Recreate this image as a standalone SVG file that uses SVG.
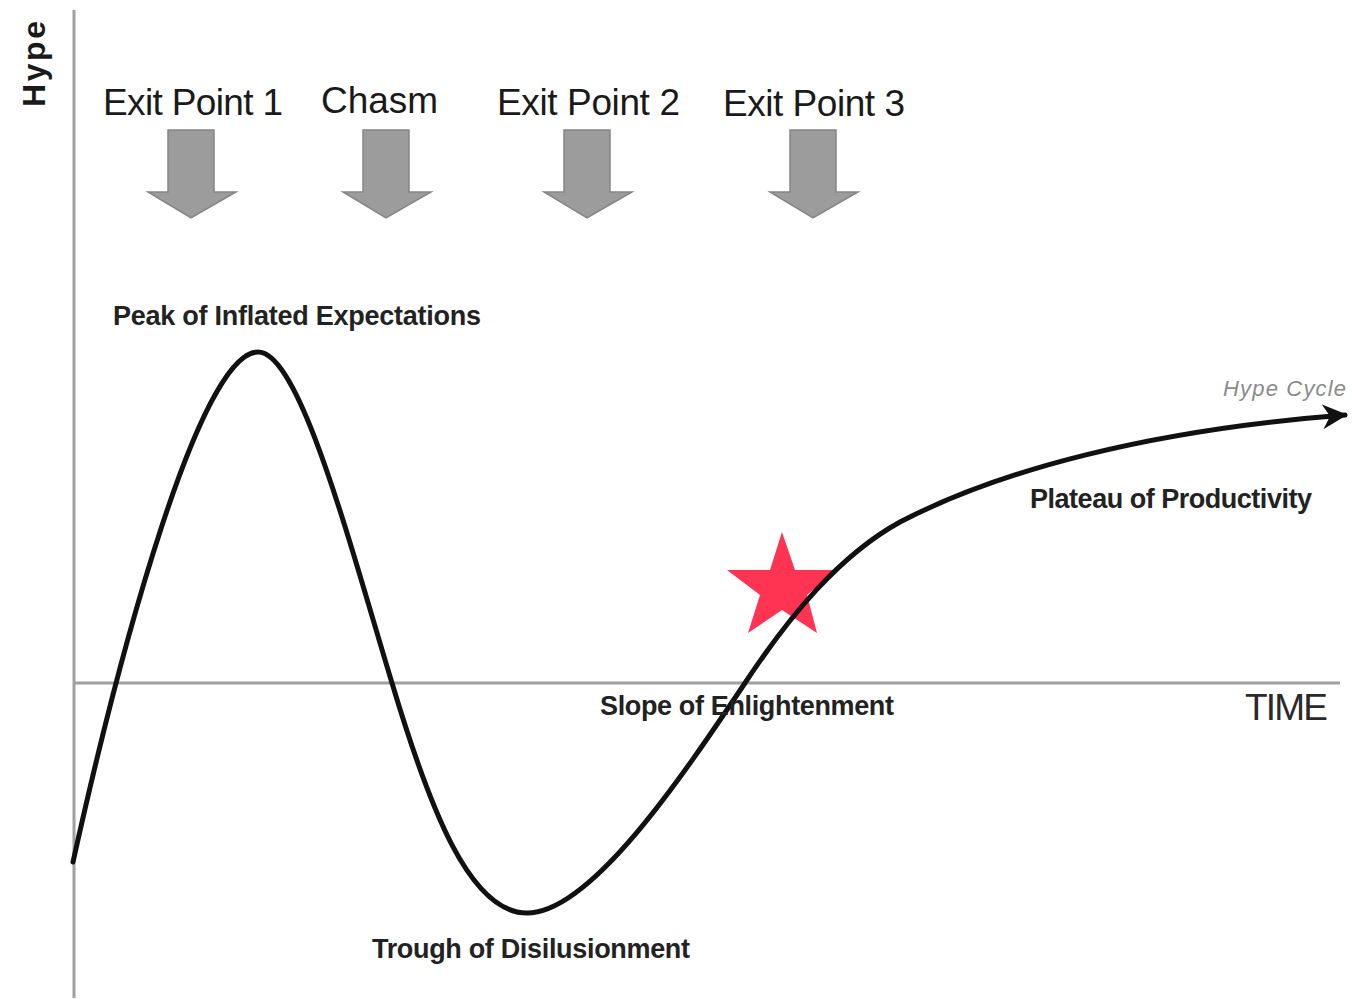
<svg xmlns="http://www.w3.org/2000/svg" width="1352" height="999" viewBox="0 0 1352 999">
<style>
.lbl{font-family:"Liberation Sans",Arial,sans-serif;fill:#1a1a1a}
.big{font-size:37px}
.small{font-size:27px;font-weight:bold;fill:#222}
.axis{stroke:#a0a0a0;stroke-width:3;fill:none}
.blk{fill:#9c9c9c;stroke:#858585;stroke-width:1.5}
</style>
<defs>
<marker id="ah" viewBox="0 0 10 10" refX="9" refY="5" markerWidth="5" markerHeight="5" orient="auto" markerUnits="strokeWidth">
<path d="M0,0 L10,5 L0,10 L3,5 Z" fill="#111"/>
</marker>
<path id="blockArrow" d="M-24,0 H22 V62 H44 L-1,88 L-44,62 H-24 Z"/>
</defs>
<rect width="1352" height="999" fill="#fff"/>
<g id="axes">
<line class="axis" x1="74" y1="10" x2="74" y2="998"/>
<line class="axis" x1="74" y1="683" x2="1340" y2="683"/>
</g>
<g id="axis-labels">
<text class="lbl" font-size="32" font-weight="bold" transform="translate(45,64) rotate(-90)" text-anchor="middle" textLength="86">Hype</text>
<text class="lbl" x="1245" y="720" font-size="37" textLength="83" style="fill:#2a2a2a">TIME</text>
</g>
<g id="exit-point-1">
<text class="lbl big" x="103" y="115" textLength="180">Exit Point 1</text>
<use href="#blockArrow" class="blk" x="192" y="130"/>
</g>
<g id="chasm">
<text class="lbl big" x="321" y="113" textLength="117">Chasm</text>
<use href="#blockArrow" class="blk" x="387" y="130"/>
</g>
<g id="exit-point-2">
<text class="lbl big" x="497" y="115" textLength="183">Exit Point 2</text>
<use href="#blockArrow" class="blk" x="588" y="130"/>
</g>
<g id="exit-point-3">
<text class="lbl big" x="723" y="116" textLength="182">Exit Point 3</text>
<use href="#blockArrow" class="blk" x="814" y="130"/>
</g>
<g id="star">
<polygon points="782,532 795,570 838,570 807,595 817,633 782,610 748,633 760,595 727,570 770,570" fill="#ff3352"/>
</g>
<g id="connectors">
<path d="M73,862 C120,650 200,352 258,352 C300,352 350,545 392,683 C430,810 470,913 527,913 C590,913 680,780 745,683 C790,615 840,555 900,522 C1000,470 1150,430 1345,415" fill="none" stroke="#111" stroke-width="5" stroke-linecap="round" marker-end="url(#ah)"/>
</g>
<g id="phase-labels">
<text class="lbl small" x="113" y="325" textLength="368">Peak of Inflated Expectations</text>
<text class="lbl" x="1223" y="396" font-size="22" font-style="italic" style="fill:#8a8a8a" textLength="123">Hype Cycle</text>
<text class="lbl small" x="1030" y="508" textLength="282">Plateau of Productivity</text>
<text class="lbl small" x="600" y="715" textLength="294">Slope of Enlightenment</text>
<text class="lbl small" x="372" y="958" textLength="318">Trough of Disilusionment</text>
</g>
</svg>
